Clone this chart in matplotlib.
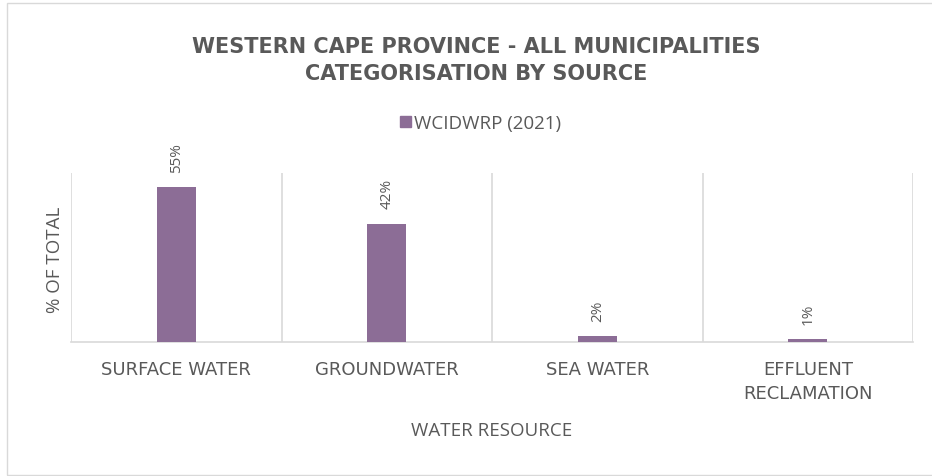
import matplotlib
matplotlib.use("Agg")
import matplotlib.pyplot as plt
from matplotlib.patches import Rectangle, Patch

categories = ["SURFACE WATER", "GROUNDWATER", "SEA WATER", "EFFLUENT\nRECLAMATION"]
values = [55, 42, 2, 1]
labels = ["55%", "42%", "2%", "1%"]
series_name = "WCIDWRP (2021)"
title = "WESTERN CAPE PROVINCE - ALL MUNICIPALITIES\nCATEGORISATION BY SOURCE"
xlabel = "WATER RESOURCE"
ylabel = "% OF TOTAL"

plt.rcParams['font.family'] = ['Open Sans', 'DejaVu Sans']
TXT = "#595959"
BAR = "#8C6D96"
GRID = "#D9D9D9"

fig = plt.figure(figsize=(9.32, 4.77), dpi=100)
fig.patches.append(Rectangle((7/932, 1-476/477), 1.0, 472/477, transform=fig.transFigure,
                             fill=False, edgecolor=GRID, linewidth=1.0))

ax = fig.add_axes([71/932, 1-343/477, (913-71)/932, (343-174)/477])
x = list(range(len(categories)))
ax.bar(x, values, width=0.185, color=BAR, zorder=3)
ax.set_xlim(-0.5, len(categories)-0.5)
ax.set_ylim(0, 60)
for s in ["top", "right", "left"]:
    ax.spines[s].set_visible(False)
ax.spines["bottom"].set_color(GRID)
ax.spines["bottom"].set_linewidth(1.2)
ax.set_yticks([])
ax.set_xticks(x)
ax.set_xticklabels(categories, color=TXT, fontsize=13, linespacing=1.4,
                   family=['DejaVu Sans'])
ax.tick_params(axis='x', length=0, pad=13)
for b in [i - 0.5 for i in range(len(categories)+1)]:
    ax.axvline(b, color=GRID, linewidth=1.2, zorder=1)
for xi, v, lab in zip(x, values, labels):
    ax.annotate(lab, (xi, v), xytext=(0, 11), textcoords="offset points",
                rotation=90, ha="center", va="bottom", color=TXT, fontsize=11)

fig.text(476/932, 1-60.5/477, title, ha="center", va="center", fontsize=15,
         fontweight="bold", color=TXT, linespacing=1.38, family=['DejaVu Sans'])
fig.text(492/932, 1-431/477, xlabel, ha="center", va="center", fontsize=13.5, color=TXT)
fig.text(55/932, 1-260/477, ylabel, ha="center", va="center", fontsize=13.5, color=TXT, rotation=90)

leg = fig.legend(handles=[Patch(color=BAR, label=series_name)], loc="center",
                 bbox_to_anchor=(481/932, 1-124/477), frameon=False, fontsize=13.5,
                 handlelength=0.55, handleheight=0.55, handletextpad=0.2)
for t in leg.get_texts():
    t.set_color(TXT)

fig.savefig("out.png", dpi=100)
